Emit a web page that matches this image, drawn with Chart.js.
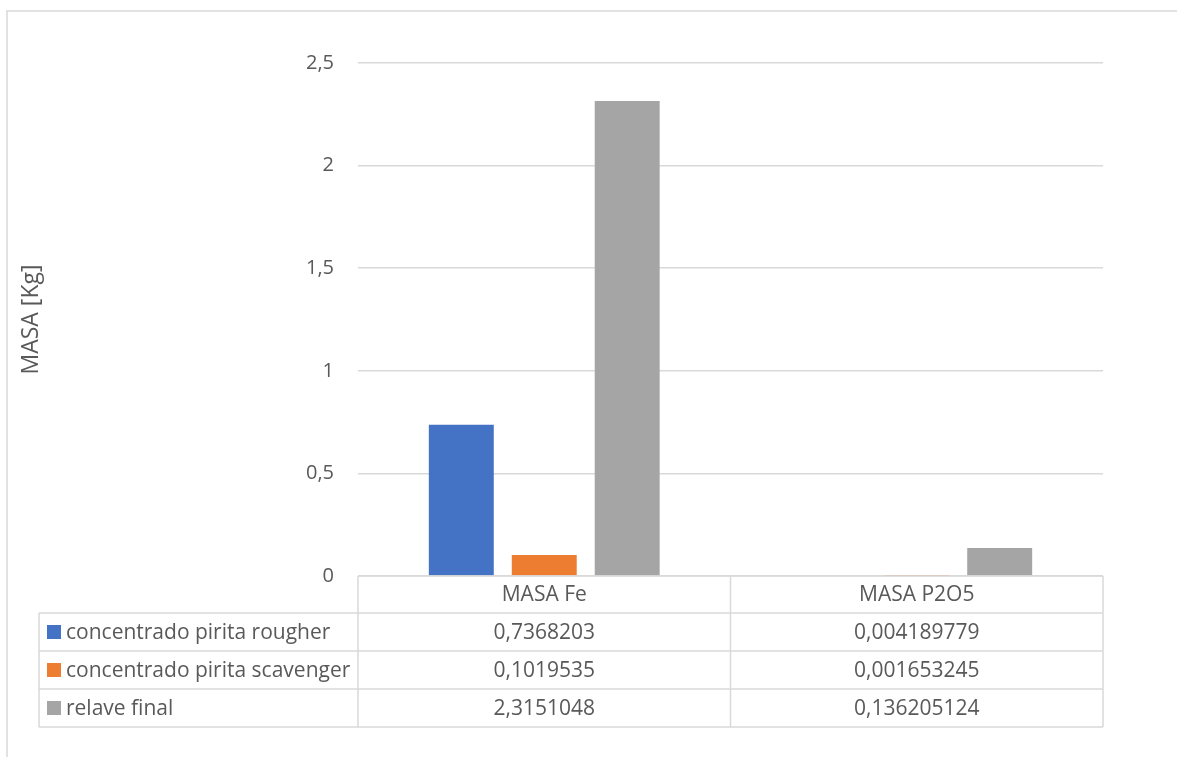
<!DOCTYPE html>
<html>
<head>
<meta charset="utf-8">
<title>MASA [Kg]</title>
<script src="https://cdn.jsdelivr.net/npm/chart.js@4"></script>
<style>
  html, body { margin: 0; padding: 0; background: #ffffff; }
  #wrap { width: 1177px; height: 757px; position: relative; }
</style>
</head>
<body>
<div id="wrap"><canvas id="masaChart"></canvas></div>
<script>
// --- Data ---
const categories = ['MASA Fe', 'MASA P2O5'];
const seriesNames = ['concentrado pirita rougher', 'concentrado pirita scavenger', 'relave final'];
const rougherValues = [0.7368203, 0.004189779];
const scavengerValues = [0.1019535, 0.001653245];
const relaveValues = [2.3151048, 0.136205124];
const seriesColors = ['#4472C4', '#ED7D31', '#A5A5A5'];
const yMax = 2.5;
const yStep = 0.5;

const textColor = '#595959';
const lineColor = '#d9d9d9';
const fontFamily = '"Open Sans", "Noto Sans", sans-serif';

// decimal comma, as in the source sheet
function fmt(v) {
  return String(v).replace('.', ',');
}

// outer frame of the chart object
const frame = {
  id: 'frame',
  beforeDraw(chart) {
    const ctx = chart.ctx;
    ctx.save();
    ctx.fillStyle = '#ffffff';
    ctx.fillRect(0, 0, chart.width, chart.height);
    ctx.strokeStyle = lineColor;
    ctx.lineWidth = 1.5;
    ctx.strokeRect(7, 11, chart.width + 50, chart.height + 50);
    ctx.restore();
  }
};

// data table under the plot, columns follow the category axis
const dataTable = {
  id: 'dataTable',
  afterDraw(chart) {
    const ctx = chart.ctx;
    const area = chart.chartArea;
    const x = chart.scales.x;
    const rows = [rougherValues, scavengerValues, relaveValues];
    const headerH = 37;
    const rowH = 38;
    const tableLeft = 39;
    const top = area.bottom;
    const bottom = top + headerH + rowH * rows.length;

    const colEdges = [area.left];
    for (let i = 0; i < categories.length - 1; i++) {
      colEdges.push((x.getPixelForValue(i) + x.getPixelForValue(i + 1)) / 2);
    }
    colEdges.push(area.right);

    ctx.save();
    ctx.strokeStyle = lineColor;
    ctx.lineWidth = 1.5;
    ctx.beginPath();
    // horizontal rules
    ctx.moveTo(area.left, top);
    ctx.lineTo(area.right, top);
    for (let r = 0; r <= rows.length; r++) {
      const y = top + headerH + rowH * r;
      ctx.moveTo(tableLeft, y);
      ctx.lineTo(area.right, y);
    }
    // vertical rules
    colEdges.forEach(cx => {
      ctx.moveTo(cx, top);
      ctx.lineTo(cx, bottom);
    });
    ctx.moveTo(tableLeft, top + headerH);
    ctx.lineTo(tableLeft, bottom);
    ctx.stroke();

    ctx.font = '21px ' + fontFamily;
    ctx.fillStyle = textColor;
    ctx.textBaseline = 'middle';
    ctx.textAlign = 'center';
    categories.forEach((c, i) => {
      ctx.fillText(c, x.getPixelForValue(i), top + headerH / 2 + 1);
    });

    rows.forEach((vals, r) => {
      const cy = top + headerH + rowH * r + rowH / 2;
      ctx.fillStyle = seriesColors[r];
      ctx.fillRect(47, cy - 7, 14, 14);
      ctx.fillStyle = textColor;
      ctx.textAlign = 'left';
      ctx.fillText(seriesNames[r], 66, cy + 1);
      ctx.textAlign = 'center';
      vals.forEach((v, i) => {
        ctx.fillText(fmt(v), x.getPixelForValue(i), cy + 1);
      });
    });
    ctx.restore();
  }
};

const masaCtx = document.getElementById('masaChart').getContext('2d');
const masaChart = new Chart(masaCtx, {
  type: 'bar',
  data: {
    labels: categories,
    datasets: [
      { label: seriesNames[0], data: rougherValues, backgroundColor: seriesColors[0] },
      { label: seriesNames[1], data: scavengerValues, backgroundColor: seriesColors[1] },
      { label: seriesNames[2], data: relaveValues, backgroundColor: seriesColors[2] }
    ]
  },
  options: {
    responsive: true,
    maintainAspectRatio: false,
    animation: false,
    categoryPercentage: 0.668,
    barPercentage: 0.783,
    layout: {
      padding: { top: 63, right: 74, bottom: 181, left: 0 }
    },
    plugins: {
      legend: { display: false },
      tooltip: { enabled: false }
    },
    scales: {
      x: {
        display: false
      },
      y: {
        min: 0,
        max: yMax,
        ticks: {
          stepSize: yStep,
          padding: 24,
          color: textColor,
          font: { family: fontFamily, size: 20 },
          callback: v => fmt(v)
        },
        grid: {
          color: lineColor,
          lineWidth: 1.5,
          drawTicks: false
        },
        border: { display: false },
        title: {
          display: true,
          text: 'MASA [Kg]',
          color: textColor,
          font: { family: fontFamily, size: 23 },
          padding: { top: 18, bottom: 0 }
        },
        afterFit(scale) {
          scale.width = 358;
        }
      }
    }
  },
  plugins: [frame, dataTable]
});
</script>
</body>
</html>
